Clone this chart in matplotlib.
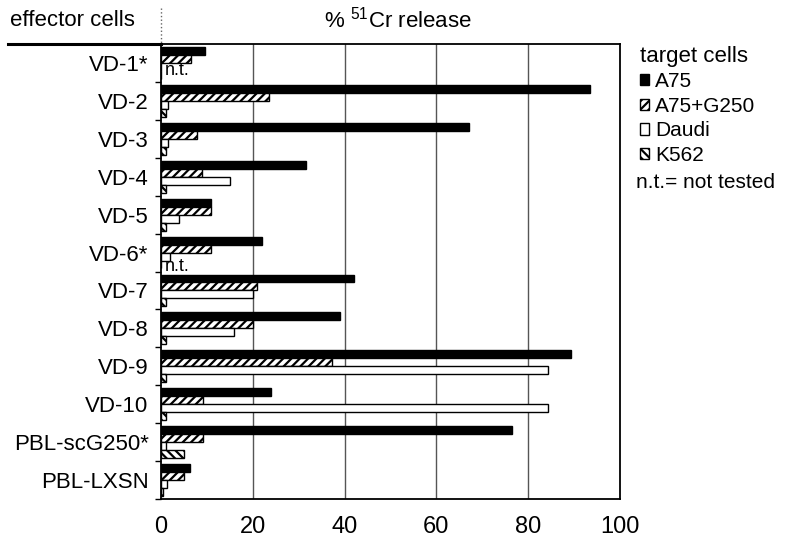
import numpy as np
import matplotlib
matplotlib.use('Agg')
import matplotlib.pyplot as plt
from matplotlib.lines import Line2D

plt.rcParams['font.family'] = ['Liberation Sans', 'DejaVu Sans']
plt.rcParams['hatch.linewidth'] = 1.6

# effector cell lines and % 51Cr release per target
effectors = ['VD-1*', 'VD-2', 'VD-3', 'VD-4', 'VD-5', 'VD-6*', 'VD-7', 'VD-8',
             'VD-9', 'VD-10', 'PBL-scG250*', 'PBL-LXSN']
targets = ['A75', 'A75+G250', 'Daudi', 'K562']
a75 = [9.5, 93.5, 67, 31.5, 11, 22, 42, 39, 89.3, 24, 76.5, 6.3]
a75_g250 = [6.5, 23.5, 7.8, 9, 11, 11, 21, 20, 37.2, 9.2, 9.2, 5]
daudi = [np.nan, 1.5, 1.5, 15, 4, 2, 20, 16, 84.3, 84.3, 1, 1.3]
k562 = [np.nan, 1, 1, 1, 1, np.nan, 1, 1, 1, 1, 5, 0.5]
not_tested = [(0, 2.5), (5, 3.2)]   # (row, bar slot) for "n.t." notes

series = [a75, a75_g250, daudi, k562]
styles = [
    dict(color='black', edgecolor='black'),
    dict(color='white', edgecolor='black', hatch='////'),
    dict(color='white', edgecolor='black'),
    dict(color='white', edgecolor='black', hatch='\\\\\\\\'),
]
FS = 16

fig = plt.figure(figsize=(7.9, 5.4), dpi=100)
ax = fig.add_axes([161 / 790, 41 / 540, 459 / 790, 455 / 540])

y = np.arange(len(effectors))
h = 0.21
handles = []
for k, (vals, st) in enumerate(zip(series, styles)):
    offs = (k - 1.5) * h
    bars = ax.barh(y + offs, np.nan_to_num(vals), height=h, linewidth=1.0,
                   label=targets[k], zorder=3, **st)
    handles.append(bars)

for row, slot in not_tested:
    ax.text(0.8, row + (slot - 1.5) * h, 'n.t.', fontsize=13,
            va='center', ha='left', zorder=4)

ax.set_xlim(0, 100)
ax.set_ylim(len(effectors) - 0.5, -0.5)
ax.set_xticks([0, 20, 40, 60, 80, 100])
ax.set_xticklabels(['0', '20', '40', '60', '80', '100'], fontsize=FS + 1)
ax.tick_params(axis='x', length=0, pad=12)
ax.set_yticks(y)
ax.set_yticklabels(effectors, fontsize=FS)
ax.tick_params(axis='y', which='major', length=0, pad=9)
ax.set_yticks(np.arange(len(effectors) + 1) - 0.5, minor=True)
ax.tick_params(axis='y', which='minor', length=4, width=1, direction='out')
for gx in [20, 40, 60, 80]:
    ax.axvline(gx, color='#555555', linewidth=1.0, zorder=1)
for sp in ax.spines.values():
    sp.set_linewidth(1.3)

# header row above the plot
fig.text(10 / 790, 1 - 20 / 540, 'effector cells', fontsize=FS, va='center', ha='left')
fig.text(398 / 790, 1 - 20 / 540, r'% $\mathregular{^{51}}$Cr release', fontsize=FS,
         va='center', ha='center')
fig.add_artist(Line2D([8 / 790, 161 / 790], [1 - 44 / 540, 1 - 44 / 540],
                      color='black', linewidth=2.2))
fig.add_artist(Line2D([161 / 790, 161 / 790], [1 - 8 / 540, 1 - 44 / 540],
                      color='#666666', linewidth=1.0, linestyle=':'))

leg = ax.legend(handles=handles, loc='upper left', bbox_to_anchor=(1.025, 1.015),
                frameon=False, fontsize=15, title='target cells', title_fontsize=FS,
                handlelength=0.45, handleheight=0.45, handletextpad=0.3,
                labelspacing=0.27, borderaxespad=0.0, alignment='left')
fig.text(636 / 790, 1 - 183 / 540, 'n.t.= not tested', fontsize=15,
         va='center', ha='left')

fig.savefig('out.png', dpi=100)
